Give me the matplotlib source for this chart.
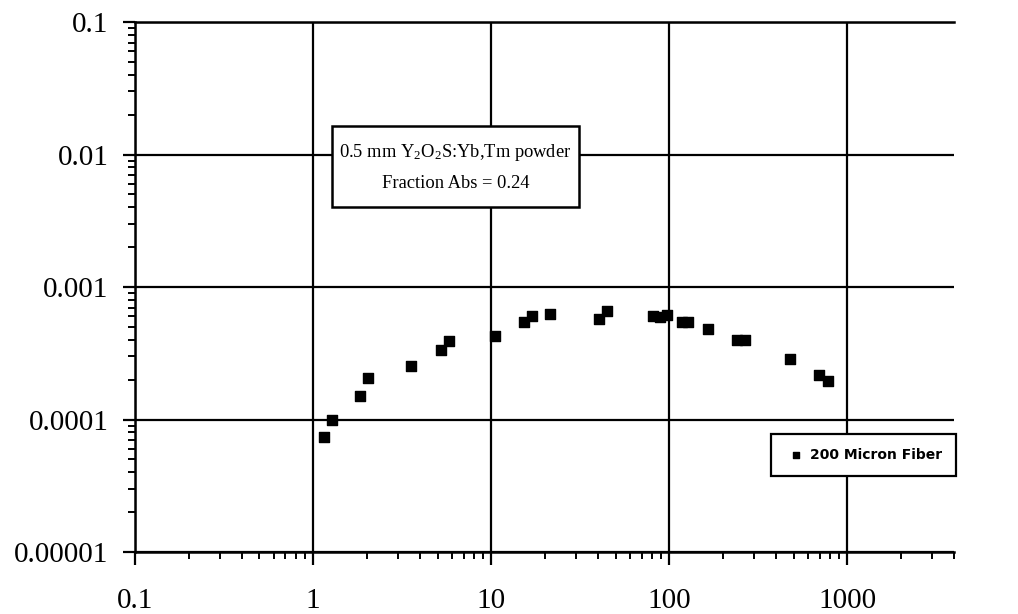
import matplotlib
matplotlib.use("Agg")
import matplotlib.pyplot as plt
from matplotlib.patches import Rectangle
from matplotlib.ticker import FixedLocator, NullFormatter, LogLocator

plt.rcParams["font.family"] = ["Liberation Serif", "DejaVu Serif"]
plt.rcParams["mathtext.default"] = "regular"

# data
fiber_x = [1.15, 1.28, 1.83, 2.03, 3.57, 5.2, 5.81, 10.5, 15.3, 17.0, 21.3,
           40.6, 44.8, 81.6, 89.0, 97.0, 118, 128, 166, 239, 266, 479, 698, 777]
fiber_y = [7.4e-5, 1.0e-4, 1.51e-4, 2.07e-4, 2.54e-4, 3.33e-4, 3.92e-4, 4.27e-4,
           5.43e-4, 6.03e-4, 6.3e-4, 5.76e-4, 6.54e-4, 6.0e-4, 5.9e-4, 6.1e-4,
           5.46e-4, 5.46e-4, 4.79e-4, 3.98e-4, 3.98e-4, 2.85e-4, 2.18e-4, 1.96e-4]

x_ticks = [0.1, 1, 10, 100, 1000]
x_labels = ["0.1", "1", "10", "100", "1000"]
y_ticks = [1e-5, 1e-4, 1e-3, 1e-2, 1e-1]
y_labels = ["0.00001", "0.0001", "0.001", "0.01", "0.1"]

fig = plt.figure(figsize=(10.18, 6.14), dpi=100)
ax = fig.add_axes([0.1326, 0.101, 0.805, 0.863])

ax.set_xscale("log")
ax.set_yscale("log")
ax.set_xlim(0.1, 4000)
ax.set_ylim(1e-5, 0.1)

ax.scatter(fiber_x, fiber_y, marker="s", s=45, color="black", zorder=3,
           label="200 Micron Fiber")

ax.xaxis.set_major_locator(FixedLocator(x_ticks))
ax.set_xticklabels(x_labels)
ax.yaxis.set_major_locator(FixedLocator(y_ticks))
ax.set_yticklabels(y_labels)
ax.xaxis.set_minor_locator(LogLocator(base=10, subs=range(2, 10), numticks=20))
ax.yaxis.set_minor_locator(LogLocator(base=10, subs=range(2, 10), numticks=20))
ax.xaxis.set_minor_formatter(NullFormatter())
ax.yaxis.set_minor_formatter(NullFormatter())

ax.tick_params(axis="both", which="major", direction="out", length=9, width=1.6,
               labelsize=21, colors="black")
ax.tick_params(axis="both", which="minor", direction="out", length=5, width=1.4)
ax.tick_params(axis="x", which="major", pad=17)
ax.tick_params(axis="y", which="major", pad=10)

ax.grid(True, which="major", color="black", linewidth=1.6)
ax.set_axisbelow(True)
for side in ["left", "bottom", "top"]:
    ax.spines[side].set_linewidth(1.8)
ax.spines["right"].set_visible(False)

# annotation box
ax.add_patch(Rectangle((0.2402, 0.651), 0.3012, 0.1528, transform=ax.transAxes,
                       facecolor="white", edgecolor="black", linewidth=1.8,
                       zorder=4, clip_on=False))
ax.text(0.391, 0.727, "0.5 mm Y$_2$O$_2$S:Yb,Tm powder\nFraction Abs = 0.24",
        transform=ax.transAxes, ha="center", va="center", multialignment="center",
        fontsize=13.3, linespacing=1.9, zorder=5)

leg = ax.legend(loc="upper right", bbox_to_anchor=(1.002, 0.2226), borderaxespad=0,
                frameon=True, fancybox=False, markerscale=0.7, handletextpad=0.3,
                handlelength=1.5, borderpad=1.0,
                prop={"family": "DejaVu Sans", "weight": "bold", "size": 10})
leg.get_frame().set_edgecolor("black")
leg.get_frame().set_linewidth(1.6)
leg.get_frame().set_alpha(1)

fig.savefig("out.png", dpi=100)
